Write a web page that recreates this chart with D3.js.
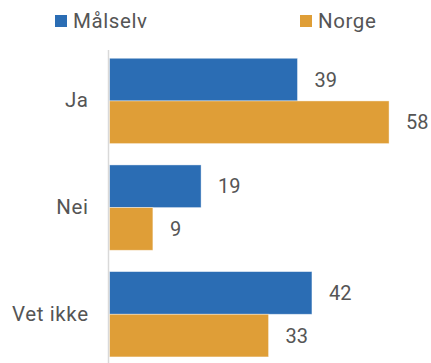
<!DOCTYPE html>
<html>
<head>
<meta charset="utf-8">
<script src="https://cdn.jsdelivr.net/npm/d3@7"></script>
<style>
  html, body { margin: 0; padding: 0; background: #fff; }
  svg { display: block; }
  text { font-family: Roboto, "Noto Sans", sans-serif; fill: #555; }
</style>
</head>
<body>
<svg id="chart" width="431" height="363"></svg>
<script>
const categories = ["Ja", "Nei", "Vet ikke"];
const seriesNames = ["Målselv", "Norge"];
const malselv = [39, 19, 42];
const norge = [58, 9, 33];
const colors = ["#2b6db4", "#df9e37"];

const svg = d3.select("#chart");
const x0 = 109.5;
const x = d3.scaleLinear().domain([0, 60]).range([x0, x0 + 60 * 4.82]);
const y = d3.scaleBand().domain(categories).range([47.6, 367.6]).paddingInner(0.2).paddingOuter(0.1);
const ySub = d3.scaleBand().domain(seriesNames).range([0, y.bandwidth()]);

const data = categories.map((c, i) => ({ cat: c, vals: [malselv[i], norge[i]] }));

const groups = svg.selectAll("g.grp").data(data).join("g")
  .attr("class", "grp")
  .attr("transform", d => `translate(0,${y(d.cat)})`);

groups.selectAll("rect").data(d => d.vals.map((v, j) => ({ v, s: seriesNames[j], j })))
  .join("rect")
  .attr("x", x(0))
  .attr("y", d => ySub(d.s))
  .attr("width", d => x(d.v) - x(0))
  .attr("height", ySub.bandwidth())
  .attr("fill", d => colors[d.j])
  .attr("stroke", "#fff")
  .attr("stroke-opacity", 0.5)
  .attr("stroke-width", 0.8);

groups.selectAll("text.val").data(d => d.vals.map((v, j) => ({ v, s: seriesNames[j] })))
  .join("text")
  .attr("class", "val")
  .attr("x", d => x(d.v) + 17)
  .attr("y", d => ySub(d.s) + ySub.bandwidth() / 2)
  .attr("dy", "0.36em")
  .attr("font-size", 20)
  .text(d => d.v);

// axis line
svg.append("line")
  .attr("x1", 108.5).attr("x2", 108.5)
  .attr("y1", 50).attr("y2", 363)
  .attr("stroke", "#d9d9d9").attr("stroke-width", 1.5);

// category labels via axis
const yAxis = d3.axisLeft(y).tickSize(0).tickPadding(0);
const ag = svg.append("g").attr("transform", "translate(88,0)").call(yAxis);
ag.select(".domain").remove();
ag.selectAll("text")
  .attr("font-size", 20.5)
  .attr("font-family", "Roboto, 'Noto Sans', sans-serif")
  .attr("letter-spacing", "0.6px")
  .attr("dx", "0.6")
  .style("fill", "#555");

// legend
const legX = [55, 300];
const leg = svg.selectAll("g.leg").data(seriesNames).join("g")
  .attr("class", "leg")
  .attr("transform", (d, i) => `translate(${legX[i]},15)`);
leg.append("rect").attr("width", 12).attr("height", 12).attr("fill", (d, i) => colors[i]);
leg.append("text").attr("x", 18).attr("y", 12.5).attr("font-size", 20.5)
  .attr("letter-spacing", "0.6px").text(d => d);
</script>
</body>
</html>
